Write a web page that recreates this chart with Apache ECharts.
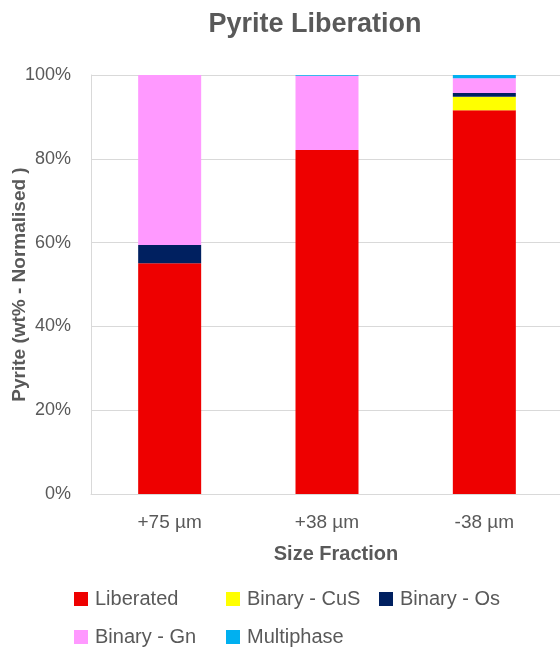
<!DOCTYPE html>
<html>
<head>
<meta charset="utf-8">
<script src="https://cdn.jsdelivr.net/npm/echarts@6/dist/echarts.min.js"></script>
<style>html,body{margin:0;padding:0;background:#fff;}#c{width:560px;height:654px;}</style>
</head>
<body>
<div id="c"></div>
<script>
const categories = ['+75 µm', '+38 µm', '-38 µm'];
const liberated = [55.1, 82.1, 91.6];
const binaryCuS = [0, 0, 3.2];
const binaryOs = [4.3, 0, 0.9];
const binaryGn = [40.6, 17.7, 3.5];
const multiphase = [0, 0.2, 0.8];
const seriesNames = ['Liberated', 'Binary - CuS', 'Binary - Os', 'Binary - Gn', 'Multiphase'];
const seriesColors = ['#EE0000', '#FFFF00', '#002060', '#FF99FF', '#00B0F0'];
const seriesData = [liberated, binaryCuS, binaryOs, binaryGn, multiphase];

const FONT = '"Liberation Sans", Arial, sans-serif';
const TXT = '#595959';
const chart = echarts.init(document.getElementById('c'), null, {renderer: 'canvas'});

const legendPos = [[74, 589], [226, 589], [379, 589], [74, 627], [226, 627]];
const legends = seriesNames.map((n, i) => ({
  left: legendPos[i][0], top: legendPos[i][1],
  data: [n], icon: 'rect', itemWidth: 14, itemHeight: 14, itemGap: 0,
  textStyle: {color: TXT, fontSize: 20, fontFamily: FONT, padding: [0, 0, 0, 2]},
  padding: 0, selectedMode: false
}));

chart.setOption({
  animation: false,
  title: {
    text: 'Pyrite Liberation', left: 310, top: 6, textAlign: 'center',
    textStyle: {color: TXT, fontSize: 27, fontWeight: 'bold', fontFamily: FONT}
  },
  legend: legends,
  grid: {left: 91, top: 75, width: 472, height: 419, outerBoundsMode: 'none', containLabel: false},
  xAxis: {
    type: 'category', data: categories,
    axisLine: {lineStyle: {color: '#D9D9D9', width: 1}},
    axisTick: {show: false},
    axisLabel: {color: TXT, fontSize: 19, fontFamily: FONT, margin: 19},
    name: 'Size Fraction', nameLocation: 'middle', nameGap: 50, nameMoveOverlap: false,
    nameTextStyle: {color: TXT, fontSize: 20, fontWeight: 'bold', fontFamily: FONT, padding: [0, 0, 0, 18]}
  },
  yAxis: {
    type: 'value', min: 0, max: 100, interval: 20,
    axisLine: {show: true, lineStyle: {color: '#D9D9D9', width: 1}},
    splitLine: {lineStyle: {color: '#D9D9D9', width: 1}},
    axisLabel: {color: TXT, fontSize: 18, fontFamily: FONT, margin: 20, formatter: '{value}%'},
    name: 'Pyrite (wt% - Normalised )', nameLocation: 'middle', nameGap: 62, nameRotate: 90,
    nameMoveOverlap: false,
    nameTextStyle: {color: TXT, fontSize: 19, fontWeight: 'bold', fontFamily: FONT}
  },
  series: seriesNames.map((n, i) => ({
    name: n, type: 'bar', stack: 'total', data: seriesData[i],
    barWidth: 63, itemStyle: {color: seriesColors[i]}
  }))
});
</script>
</body>
</html>
